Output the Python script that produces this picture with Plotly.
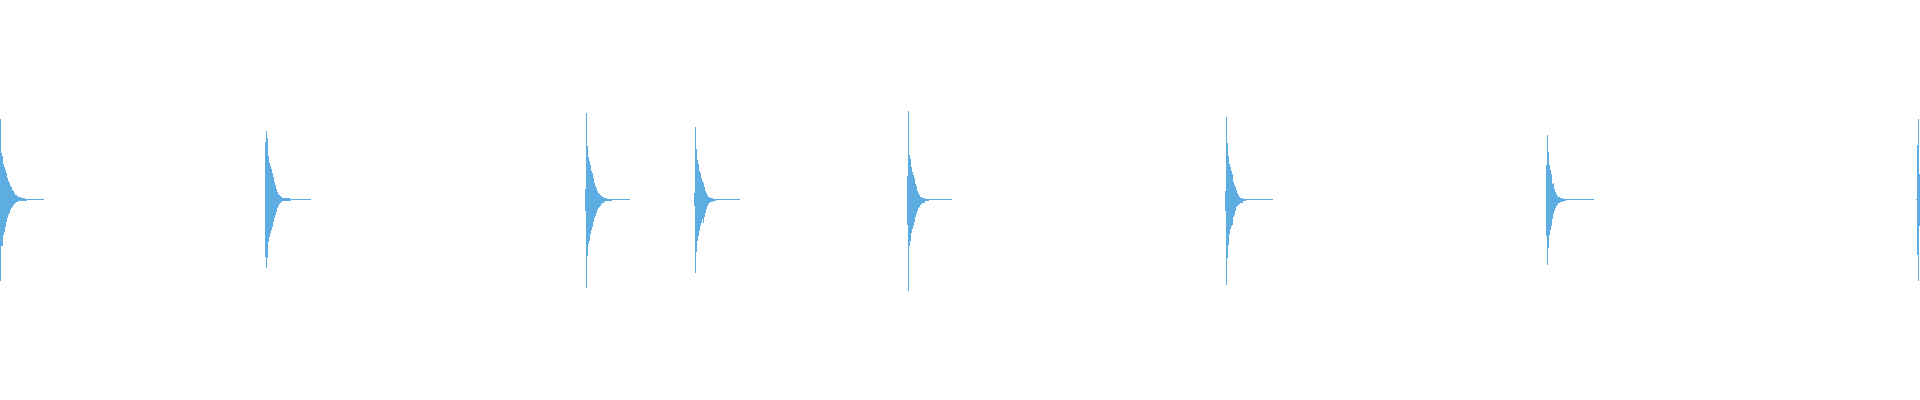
import plotly.graph_objects as go

# waveform peaks, one value per pixel column
# amplitudes are in the same units as the y axis (full scale = 200)
starts = [0, 265, 585, 694, 907, 1225, 1546, 1916]
tail_ends = [43, 310, 629, 739, 951, 1272, 1593, 1919]

peak_up = [
    [81, 47, 44, 36, 33, 30, 27, 22, 19, 17, 14, 13, 10, 9, 7, 5, 5, 4, 3, 3, 2.5, 2, 2, 1.5, 1.5, 1, 1],
    [58, 69, 62, 44, 37, 34, 31, 27, 23, 18, 15, 11, 8, 6, 5, 4, 3, 2, 1.5, 1.5, 1.5, 1.5, 1.5, 1.5, 1.5, 1],
    [11, 87, 54, 43, 39, 35, 29, 27, 22, 17, 14, 12, 9, 7, 6, 5, 4, 3, 3, 2, 1.3, 1.3, 1, 1, 1, 1, 1],
    [7, 73, 51, 40, 36, 29, 27, 22, 19, 17, 13, 9, 7, 5, 3, 3, 2, 2, 2, 1, 1, 1],
    [24, 89, 45, 41, 33, 28, 25, 22, 16, 14, 9, 7, 5, 3, 3, 2, 2, 2, 1, 1, 1, 1],
    [9, 83, 57, 44, 36, 33, 29, 26, 18, 15, 13, 10, 7, 5, 3, 2, 2, 2, 1, 1, 1],
    [35, 65, 48, 35, 30, 26, 16, 17, 11, 8, 6, 4, 3, 3, 2, 2, 2, 1, 1, 1],
    [0.5, 55, 81, 26],
]
peak_down = [
    [81, 46, 46, 35, 32, 27, 22, 18, 15, 13, 10, 8, 7, 5, 4, 3, 2, 2, 1.5, 1.5, 1, 1, 1, 1, 1, 1, 1],
    [57, 68, 58, 42, 37, 33, 30, 27, 22, 18, 15, 12, 8, 6, 4, 3, 2, 1.5, 1, 1, 1, 1, 1, 1, 1, 1],
    [11, 88, 56, 44, 41, 34, 30, 27, 22, 18, 16, 13, 10, 8, 7, 6, 4, 3, 3, 2, 1.7, 1.7, 1, 1, 1, 1, 1],
    [6, 73, 52, 41, 36, 31, 26, 23, 19, 23, 17, 13, 9, 6, 4, 3, 2, 2, 2, 1.3, 1.3, 1.3],
    [25, 91, 46, 41, 33, 29, 26, 22, 17, 14, 11, 8, 7, 5, 4, 3, 3, 3, 1.7, 1.7, 1.7, 1.7],
    [11, 85, 58, 45, 34, 29, 26, 25, 17, 15, 11, 7, 6, 5, 4, 3, 3, 3, 1.7, 1.7, 1.7],
    [36, 65, 48, 35, 30, 26, 19, 14, 11, 8, 6, 5, 3, 3, 2, 2, 2, 1.7, 1.7, 1.7],
    [0.5, 55, 81, 26],
]

wave_color = "#5dade2"

xs, bases, heights = [], [], []
for s, up, down in zip(starts, peak_up, peak_down):
    for k in range(len(up)):
        xs.append(s + k)
        bases.append(-down[k])
        heights.append(up[k] + down[k])

# thin silent line after every hit
line_x = [(s + e) / 2 for s, e in zip(starts, tail_ends)]
line_w = [e - s + 1 for s, e in zip(starts, tail_ends)]

fig = go.Figure()
fig.add_trace(go.Bar(x=line_x, y=[1] * len(line_x), base=[-0.5] * len(line_x), width=line_w,
                     marker=dict(color=wave_color, line=dict(width=0)), hoverinfo="skip"))
fig.add_trace(go.Bar(x=xs, y=heights, base=bases, width=1,
                     marker=dict(color=wave_color, line=dict(width=0))))

fig.update_layout(
    width=1920, height=400,
    margin=dict(l=0, r=0, t=0, b=0),
    paper_bgcolor="white", plot_bgcolor="white",
    showlegend=False, barmode="overlay", bargap=0,
    xaxis=dict(range=[-0.5, 1919.5], visible=False, fixedrange=True),
    yaxis=dict(range=[-200.5, 199.5], visible=False, fixedrange=True),
)
# page has a default 8px body margin, drop it so the plot starts at the corner
fig.write_html("out.html", config={"displayModeBar": False},
               post_script="document.body.style.margin='0';document.body.style.overflow='hidden';")
